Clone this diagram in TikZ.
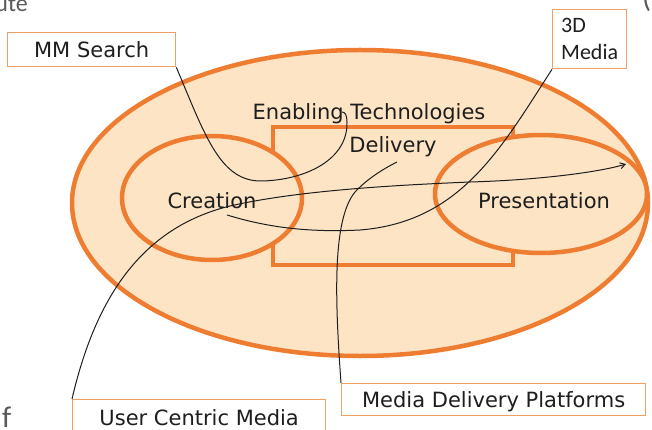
\documentclass[tikz,border=0pt]{standalone}
\usepackage{fontspec}
\setmainfont{DejaVu Sans}
\newfontfamily\myriad{Carlito}
\usetikzlibrary{arrows.meta}
\definecolor{orng}{RGB}{238,125,49}
\definecolor{peach}{RGB}{252,228,197}
\definecolor{boxline}{RGB}{240,160,100}
\definecolor{ink}{RGB}{30,30,30}
\begin{document}
\begin{tikzpicture}[x=1pt,y=-1pt,
  region/.style={draw=orng, fill=peach, line width=4.5pt},
  labelbox/.style={draw=boxline, fill=white, line width=1.3pt, inner sep=0pt,
    font=\fontsize{21}{25}\selectfont, text=ink, text height=15.3pt, text depth=0pt},
  lbl/.style={font=\fontsize{21}{25}\selectfont, text=ink, inner sep=0pt},
  conn/.style={draw=ink, line width=1pt},
  frag/.style={font=\myriad\fontsize{24}{28}\selectfont, text=black!65, inner sep=0pt}]
\useasboundingbox (0,0) rectangle (652,430);
% page fragments
\node[frag, anchor=base east] (fragA) at (28,12) {ute};
\node[frag, font=\myriad\fontsize{30}{34}\selectfont, anchor=base west] (fragB) at (642,8) {(};
\node[frag, font=\myriad\fontsize{30}{34}\selectfont, anchor=base west] (fragC) at (2,427) {f};
% regions
\draw[region] (360,203) ellipse [x radius=288, y radius=153];
\draw[region] (273,127) rectangle (513,265);
\draw[region] (212,198) ellipse [x radius=90, y radius=62];
\draw[region] (541,194) ellipse [x radius=106, y radius=59];
% inner labels
\node[lbl, anchor=base] (enab) at (369,120) {Enabling Technologies};
\node[lbl, anchor=base] (deliv) at (393,153) {Delivery};
\node[lbl, anchor=base] (creat) at (212,208) {Creation};
\node[lbl, anchor=base] (pres) at (544,208) {Presentation};
% label boxes
\node[labelbox, anchor=north west, minimum width=168, minimum height=34] (mm) at (7,32) {MM Search};
\node[draw=boxline, fill=white, line width=1.3pt, inner sep=0pt, align=left,
  font=\myriad\fontsize{22}{27}\selectfont, text=ink,
  anchor=north west, minimum width=74, minimum height=59] (d3) at (552,9) {3D\\Media};
\node[labelbox, anchor=north west, minimum width=253, minimum height=36.7] (ucm) at (72,399) {User Centric Media};
\node[labelbox, anchor=north west, minimum width=304, minimum height=32] (mdp) at (341,383) {Media Delivery Platforms};
% connector ends
\coordinate (enabEnd) at (342,112);
\coordinate (arrowEnd) at (626,164);
\coordinate (creEnd) at (227,215);
\coordinate (delEnd) at (397,162);
% connectors
\draw[conn] (mm.south east) .. controls (205,135) and (220,182) .. (262,181)
  .. controls (305,180) and (348,160) .. (347,122)
  .. controls (347,115) and (345,112) .. (enabEnd);
\draw[conn, -{Straight Barb[length=5pt,width=6pt]}] (ucm.north west)
  .. controls (95,300) and (140,228) .. (230,206)
  .. controls (300,190) and (400,185) .. (470,182)
  .. controls (540,180) and (600,172) .. (arrowEnd);
\draw[conn] (d3.south west) .. controls (500,150) and (460,222) .. (360,230)
  .. controls (300,233) and (260,225) .. (creEnd);
\draw[conn] (mdp.north west) .. controls (335,300) and (332,220) .. (355,192)
  .. controls (368,178) and (385,168) .. (delEnd);
\end{tikzpicture}
\end{document}
